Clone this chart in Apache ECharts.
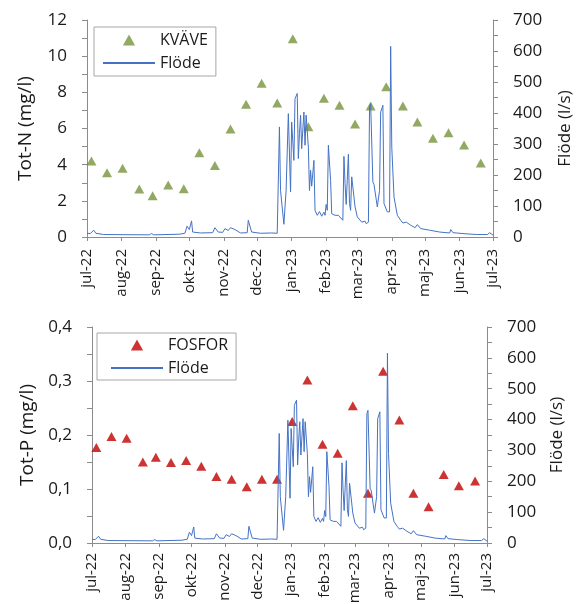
<!DOCTYPE html>
<html>
<head>
<meta charset="utf-8">
<script src="https://cdn.jsdelivr.net/npm/echarts@6/dist/echarts.min.js"></script>
<style>
html, body { margin: 0; padding: 0; background: #fff; }
#chart { width: 577px; height: 604px; }
</style>
</head>
<body>
<div id="chart"></div>
<script>
// provtagningsdatum (samma för kväve och fosfor)
var sampleDates = ['2022-07-05', '2022-07-19', '2022-08-02', '2022-08-17', '2022-08-29', '2022-09-12',
    '2022-09-26', '2022-10-10', '2022-10-24', '2022-11-07', '2022-11-21', '2022-12-05', '2022-12-19',
    '2023-01-02', '2023-01-16', '2023-01-30', '2023-02-13', '2023-02-27', '2023-03-13', '2023-03-27',
    '2023-04-11', '2023-04-24', '2023-05-08', '2023-05-22', '2023-06-05', '2023-06-20'];
var kvave = [4.2, 3.55, 3.8, 2.65, 2.28, 2.87, 2.67, 4.66, 3.96, 5.97, 7.34, 8.5, 7.41,
    10.97, 6.1, 7.67, 7.28, 6.25, 7.24, 8.31, 7.24, 6.36, 5.46, 5.77, 5.09, 4.09];
var fosfor = [0.177, 0.197, 0.194, 0.150, 0.159, 0.149, 0.153, 0.142, 0.123, 0.118, 0.104, 0.118, 0.118,
    0.225, 0.302, 0.183, 0.166, 0.254, 0.092, 0.318, 0.228, 0.092, 0.067, 0.127, 0.106, 0.115];

// flöde, avläst i brytpunkter
var flowDates = ['2022-07-01', '2022-07-02', '2022-07-04', '2022-07-07', '2022-07-09', '2022-07-16',
    '2022-08-26', '2022-08-28', '2022-08-30', '2022-09-22', '2022-09-27', '2022-09-29', '2022-10-01',
    '2022-10-03', '2022-10-04', '2022-10-11', '2022-10-22', '2022-10-24', '2022-10-27', '2022-10-31',
    '2022-11-02', '2022-11-05', '2022-11-07', '2022-11-11', '2022-11-16', '2022-11-22', '2022-11-23',
    '2022-11-26', '2022-12-04', '2022-12-14', '2022-12-19', '2022-12-20', '2022-12-21', '2022-12-22',
    '2022-12-25', '2022-12-27', '2022-12-29', '2022-12-31', '2023-01-01', '2023-01-03', '2023-01-04',
    '2023-01-06', '2023-01-07', '2023-01-08', '2023-01-09', '2023-01-10', '2023-01-12', '2023-01-13',
    '2023-01-14', '2023-01-16', '2023-01-17', '2023-01-18', '2023-01-19', '2023-01-21', '2023-01-22',
    '2023-01-24', '2023-01-26', '2023-01-28', '2023-01-30', '2023-01-31', '2023-02-01', '2023-02-02',
    '2023-02-03', '2023-02-05', '2023-02-06', '2023-02-09', '2023-02-12', '2023-02-16', '2023-02-17',
    '2023-02-18', '2023-02-19', '2023-02-21', '2023-02-22', '2023-02-23', '2023-02-24', '2023-02-25',
    '2023-02-27', '2023-03-01', '2023-03-05', '2023-03-08', '2023-03-09', '2023-03-11', '2023-03-12',
    '2023-03-13', '2023-03-14', '2023-03-15', '2023-03-16', '2023-03-19', '2023-03-21', '2023-03-22',
    '2023-03-23', '2023-03-24', '2023-03-25', '2023-03-28', '2023-03-30', '2023-03-31', '2023-04-01',
    '2023-04-03', '2023-04-06', '2023-04-09', '2023-04-11', '2023-04-14', '2023-04-18', '2023-04-22',
    '2023-04-24', '2023-04-27', '2023-05-05', '2023-05-14', '2023-05-23', '2023-05-24', '2023-05-26',
    '2023-06-04', '2023-06-16', '2023-06-26', '2023-06-28', '2023-07-01'];
var flowValues = [12, 16, 11, 22, 12, 8,
    7, 11, 7, 9, 12, 35, 24,
    52, 16, 13, 14, 30, 16, 15,
    27, 21, 30, 24, 13, 14, 54,
    16, 12, 13, 12, 14, 355, 150,
    41, 150, 398, 145, 371, 247, 446,
    463, 253, 334, 393, 285, 403, 296,
    393, 290, 150, 215, 164, 247, 86,
    70, 82, 67, 80, 70, 105, 86,
    296, 183, 75, 70, 70, 54, 260,
    172, 105, 267, 108, 86, 194, 199,
    97, 65, 48, 51, 43, 48, 419,
    430, 425, 177, 170, 97, 150, 403,
    409, 425, 108, 81, 81, 615, 290,
    129, 70, 54, 45, 48, 38, 30,
    40, 27, 22, 16, 13, 24, 14,
    11, 8, 8, 14, 6];

var monthNames = ['jan', 'feb', 'mar', 'apr', 'maj', 'jun', 'jul', 'aug', 'sep', 'okt', 'nov', 'dec'];

var axisGrey = '#8c8c8c';
var textColor = '#1a1a1a';
var fontName = 'Open Sans';
var triangleIcon = 'path://M5,0L10,9L0,9Z';

function zip(a, b) {
    var out = [];
    for (var i = 0; i < a.length; i++) {
        out.push([a[i], b[i]]);
    }
    return out;
}

function monthLabel(v) {
    var d = new Date(v);
    return monthNames[d.getMonth()] + '-' + String(d.getFullYear()).slice(2);
}

function timeAxis(gridIndex, margin) {
    return {
        type: 'time',
        gridIndex: gridIndex,
        min: '2022-07-01',
        max: '2023-07-01',
        splitNumber: 12,
        axisLine: { lineStyle: { color: axisGrey } },
        axisTick: { show: true, inside: false, length: 4, lineStyle: { color: axisGrey } },
        axisLabel: {
            rotate: 90, margin: margin, color: textColor, fontFamily: fontName, fontSize: 15,
            showMinLabel: true, showMaxLabel: true, hideOverlap: false,
            formatter: monthLabel
        },
        splitLine: { show: false }
    };
}

function valueAxis(gridIndex, pos, max, interval, name, nameGap, nameSize, fmt) {
    return {
        type: 'value',
        gridIndex: gridIndex,
        position: pos,
        min: 0,
        max: max,
        interval: interval,
        name: name,
        nameLocation: 'middle',
        nameRotate: 90,
        nameGap: nameGap,
        nameTextStyle: { color: textColor, fontFamily: fontName, fontSize: nameSize },
        axisLine: { show: true, lineStyle: { color: axisGrey } },
        axisTick: { show: true, inside: false, length: 5, lineStyle: { color: axisGrey } },
        minorTick: { show: true, splitNumber: 2, length: 5, lineStyle: { color: axisGrey } },
        axisLabel: { color: textColor, fontFamily: fontName, fontSize: 17, margin: 20, formatter: fmt },
        splitLine: { show: false }
    };
}

function legendBox(left, top, markName, pad) {
    return {
        orient: 'vertical',
        left: left, top: top,
        padding: pad,
        itemWidth: 52, itemHeight: 11, itemGap: 7,
        symbolKeepAspect: true,
        borderColor: '#a6a6a6', borderWidth: 1,
        textStyle: { color: textColor, fontFamily: fontName, fontSize: 16 },
        data: [
            { name: markName, icon: triangleIcon },
            { name: 'Flöde', itemStyle: { opacity: 0 } }
        ]
    };
}

var myChart = echarts.init(document.getElementById('chart'));

var option = {
    animation: false,
    backgroundColor: '#fff',
    grid: [
        { left: 87, right: 84, top: 20, bottom: 367, outerBoundsMode: 'none' },
        { left: 92, right: 90, top: 327, bottom: 61, outerBoundsMode: 'none' }
    ],
    legend: [
        legendBox(94, 27, 'KVÄVE', [5, 8, 5, 8]),
        legendBox(97, 333, 'FOSFOR', [4, 8, 4, 13])
    ],
    xAxis: [timeAxis(0, 12), timeAxis(1, 10)],
    yAxis: [
        valueAxis(0, 'left', 12, 2, 'Tot-N (mg/l)', 52, 19),
        valueAxis(0, 'right', 700, 100, 'Flöde (l/s)', 64, 17),
        valueAxis(1, 'left', 0.4, 0.1, 'Tot-P (mg/l)', 54, 19, function (v) {
            return v.toFixed(1).replace('.', ',');
        }),
        valueAxis(1, 'right', 700, 100, 'Flöde (l/s)', 62, 17)
    ],
    series: [{
        name: 'KVÄVE',
        type: 'scatter',
        xAxisIndex: 0, yAxisIndex: 0,
        symbol: 'triangle', symbolSize: [10, 9],
        itemStyle: { color: '#77933c' },
        data: zip(sampleDates, kvave)
    }, {
        name: 'Flöde',
        type: 'line',
        xAxisIndex: 0, yAxisIndex: 1,
        symbol: 'none', showSymbol: false,
        lineStyle: { color: '#4472c4', width: 1 },
        itemStyle: { color: '#4472c4' },
        z: 3,
        data: zip(flowDates, flowValues)
    }, {
        name: 'FOSFOR',
        type: 'scatter',
        xAxisIndex: 1, yAxisIndex: 2,
        symbol: 'triangle', symbolSize: [10, 9],
        itemStyle: { color: '#c00000' },
        data: zip(sampleDates, fosfor)
    }, {
        name: 'Flöde',
        type: 'line',
        xAxisIndex: 1, yAxisIndex: 3,
        symbol: 'none', showSymbol: false,
        lineStyle: { color: '#4472c4', width: 1 },
        itemStyle: { color: '#4472c4' },
        z: 3,
        data: zip(flowDates, flowValues)
    }]
};

myChart.setOption(option);
</script>
</body>
</html>
